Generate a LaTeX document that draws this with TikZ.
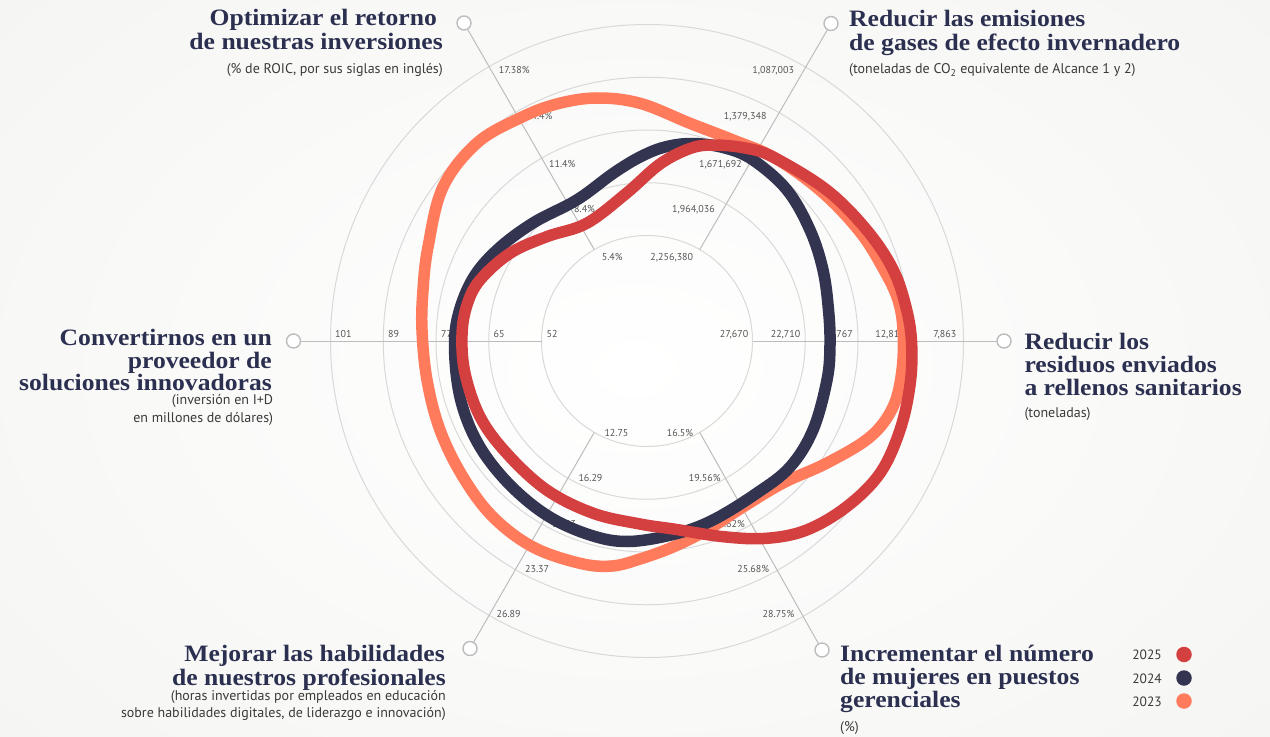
\documentclass[tikz,border=0pt]{standalone}
\usepackage{fontspec}
\setmainfont{Liberation Serif}
\newfontfamily\ttlfont[FakeStretch=1.09]{Liberation Serif}
\newfontfamily\sansf{PT Sans}
\definecolor{navyT}{HTML}{2C3050}
\definecolor{c25}{HTML}{D43F3F}
\definecolor{c24}{HTML}{333450}
\definecolor{c23}{HTML}{FF7B5C}
\definecolor{ringc}{HTML}{D9D9D9}
\definecolor{axc}{HTML}{BDBDBD}
\definecolor{lblc}{HTML}{555555}
\definecolor{subc}{HTML}{3A3A3A}
\definecolor{bgc}{HTML}{F4F4F2}
\begin{document}
\begin{tikzpicture}[x=1bp,y=-1bp,
 ringline/.style={draw=ringc, line width=1bp},
 axline/.style={draw=axc, line width=1bp},
 axmark/.style={circle, draw=axc, fill=white, line width=1.4bp, minimum size=14bp, inner sep=0pt},
 lbl/.style={font=\sansf\fontsize{10bp}{12bp}\selectfont, text=lblc, inner sep=0pt},
 ttl/.style={font=\ttlfont\bfseries\fontsize{23.5bp}{24bp}\selectfont, text=navyT, inner sep=0pt},
 subtxt/.style={font=\sansf\fontsize{14bp}{16bp}\selectfont, text=subc, inner sep=0pt},
 yearcurve/.style={line width=11.5bp, line join=round},
 legdot/.style={circle, minimum size=15.5bp, inner sep=0pt},
 legtxt/.style={font=\sansf\fontsize{13.5bp}{16bp}\selectfont, text=subc, inner sep=0pt},
]
\useasboundingbox (0,0) rectangle (1270,737);
\shade[inner color=white, outer color=bgc] (-300,-250) rectangle (1570,987);

\coordinate (C) at (647,341);
% rings
\foreach \r in {105.5,158.25,211,263.75,316.5}
  \draw[ringline] (C) circle[radius=\r bp];

% axes
\coordinate (aUL) at (594.25,249.6);
\coordinate (aUR) at (699.75,249.6);
\coordinate (aL) at (541.5,341);
\coordinate (aR) at (752.5,341);
\coordinate (aLL) at (594.25,432.4);
\coordinate (aLR) at (699.75,432.4);
\node[axmark] (mUL) at (464,23) {};
\node[axmark] (mUR) at (831,23.5) {};
\node[axmark] (mL) at (293.5,341) {};
\node[axmark] (mR) at (1004,341) {};
\node[axmark] (mLL) at (470,648.5) {};
\node[axmark] (mLR) at (822,650) {};
\draw[axline] (aUL) -- (mUL);
\draw[axline] (aUR) -- (mUR);
\draw[axline] (aL) -- (mL);
\draw[axline] (aR) -- (mR);
\draw[axline] (aLL) -- (mLL);
\draw[axline] (aLR) -- (mLR);

% axis value labels
\node[lbl, anchor=base west] (vL5) at (335,337) {101};
\node[lbl, anchor=base west] (vL4) at (388,337) {89};
\node[lbl, anchor=base west] (vL3) at (441,337) {77};
\node[lbl, anchor=base west] (vL2) at (493.5,337) {65};
\node[lbl, anchor=base west] (vL1) at (546.5,337) {52};
\node[lbl, anchor=base east] (vR1) at (748.5,337) {27,670};
\node[lbl, anchor=base east] (vR2) at (800.5,337) {22,710};
\node[lbl, anchor=base east] (vR3) at (853,337) {17,767};
\node[lbl, anchor=base east] (vR4) at (905,337) {12,815};
\node[lbl, anchor=base east] (vR5) at (956.5,337) {7,863};
\node[lbl, anchor=base west] (vUL1) at (601.7,260) {5.4\%};
\node[lbl, anchor=base west] (vUL2) at (574,212.5) {8.4\%};
\node[lbl, anchor=base west] (vUL3) at (549,167.3) {11.4\%};
\node[lbl, anchor=base west] (vUL4) at (526,120) {14.4\%};
\node[lbl, anchor=base west] (vUL5) at (498.7,74) {17.38\%};
\node[lbl, anchor=base east] (vUR1) at (693.3,260) {2,256,380};
\node[lbl, anchor=base east] (vUR2) at (715,212.3) {1,964,036};
\node[lbl, anchor=base east] (vUR3) at (742,167.3) {1,671,692};
\node[lbl, anchor=base east] (vUR4) at (766.7,120) {1,379,348};
\node[lbl, anchor=base east] (vUR5) at (794.2,74) {1,087,003};
\node[lbl, anchor=base west] (vLL1) at (604.3,436.7) {12.75};
\node[lbl, anchor=base west] (vLL2) at (578.3,481.7) {16.29};
\node[lbl, anchor=base west] (vLL3) at (552,527) {19.83};
\node[lbl, anchor=base west] (vLL4) at (525,572.7) {23.37};
\node[lbl, anchor=base west] (vLL5) at (496.4,617) {26.89};
\node[lbl, anchor=base east] (vLR1) at (693.3,436.7) {16.5\%};
\node[lbl, anchor=base east] (vLR2) at (720.7,481.7) {19.56\%};
\node[lbl, anchor=base east] (vLR3) at (745,527) {22.62\%};
\node[lbl, anchor=base east] (vLR4) at (769.3,572.7) {25.68\%};
\node[lbl, anchor=base east] (vLR5) at (794.6,617) {28.75\%};

% curves
\draw[yearcurve, draw=c23] plot[smooth cycle, tension=0.6] coordinates {
 (520,118) (556.7,104) (596.7,98) (640,103.3) (690,123.3) (733,140) (775,158)
 (822,192) (860,232) (884,270) (898,300) (903,330) (902,370) (893,407)
 (870,437) (827,463) (783,483) (743,507) (707,530) (673,547) (640,559)
 (612,566) (580,563.3) (533,547) (493,517) (463,477) (440,430) (427,380)
 (422,330) (423,290) (428,247) (443,187) (477,143)};
\draw[yearcurve, draw=c24] plot[smooth cycle, tension=0.6] coordinates {
 (533,223) (576.7,200) (613.3,173.3) (640,157) (665,147) (693,143.5) (725,148)
 (753,160) (787,190) (810,230) (823,270) (828.5,310) (830,345) (827,380)
 (813,430) (790,467) (757,493) (713,520) (675,534) (628,541.5)
 (590,535) (548,516) (510,485) (480,447) (462,405) (455,360) (457,320)
 (472,280) (497,250)};
\draw[yearcurve, draw=c25] plot[smooth cycle, tension=0.6] coordinates {
 (546.7,236.7) (586.7,223.3) (626.7,193) (660,164) (690,148.5) (713,145) (745,148)
 (773,157) (826.7,190) (866.7,230) (893.3,270) (906.7,310) (911.7,345) (910,385)
 (900,430) (880,473.3) (846.7,506.7) (806.7,530) (766.7,538.3) (723.3,536.7)
 (673.3,529) (640,524) (593.3,513.3) (546.7,490) (506.7,453.3) (480,416.7)
 (465,373.3) (462,335) (467,305) (480,280) (510,253.3)};

% titles
\node[ttl, anchor=base east] (tUL1) at (437,26) {Optimizar el retorno};
\node[ttl, anchor=base east] (tUL2) at (443,50) {de nuestras inversiones};
\node[subtxt, anchor=base east] (sUL) at (443,74) {(\% de ROIC, por sus siglas en inglés)};

\node[ttl, anchor=base west] (tUR1) at (849,26.5) {Reducir las emisiones};
\node[ttl, anchor=base west] (tUR2) at (849,50.5) {de gases de efecto invernadero};
\node[subtxt, anchor=base west] (sUR) at (849,74) {(toneladas de CO\textsubscript{2} equivalente de Alcance 1 y 2)};

\node[ttl, anchor=base east] (tL1) at (272,345.5) {Convertirnos en un};
\node[ttl, anchor=base east] (tL2) at (272,368) {proveedor de};
\node[ttl, anchor=base east] (tL3) at (272,390) {soluciones innovadoras};
\node[subtxt, anchor=base east] (sL1) at (273.3,404.5) {(inversión en I+D};
\node[subtxt, anchor=base east] (sL2) at (273.3,422) {en millones de dólares)};

\node[ttl, anchor=base west] (tR1) at (1024.3,349.3) {Reducir los};
\node[ttl, anchor=base west] (tR2) at (1024.3,372.7) {residuos enviados};
\node[ttl, anchor=base west] (tR3) at (1024.3,395.7) {a rellenos sanitarios};
\node[subtxt, anchor=base west] (sR) at (1024.3,417.3) {(toneladas)};

\node[ttl, anchor=base east] (tLL1) at (445,661.7) {Mejorar las habilidades};
\node[ttl, anchor=base east] (tLL2) at (446,685) {de nuestros profesionales};
\node[subtxt, anchor=base east] (sLL1) at (446,700.7) {(horas invertidas por empleados en educación};
\node[subtxt, anchor=base east] (sLL2) at (446,717.3) {sobre habilidades digitales, de liderazgo e innovación)};

\node[ttl, anchor=base west] (tLR1) at (840,661.7) {Incrementar el número};
\node[ttl, anchor=base west] (tLR2) at (840,684.5) {de mujeres en puestos};
\node[ttl, anchor=base west] (tLR3) at (840,707.3) {gerenciales};
\node[subtxt, anchor=base west] (sLR) at (840,731.7) {(\%)};

% legend
\node[legtxt, anchor=base east] (l25) at (1162,659) {2025};
\node[legtxt, anchor=base east] (l24) at (1162,683) {2024};
\node[legtxt, anchor=base east] (l23) at (1162,706) {2023};
\node[legdot, fill=c25] (d25) at (1184,654.5) {};
\node[legdot, fill=c24] (d24) at (1184,678) {};
\node[legdot, fill=c23] (d23) at (1184,701) {};
\end{tikzpicture}
\end{document}
